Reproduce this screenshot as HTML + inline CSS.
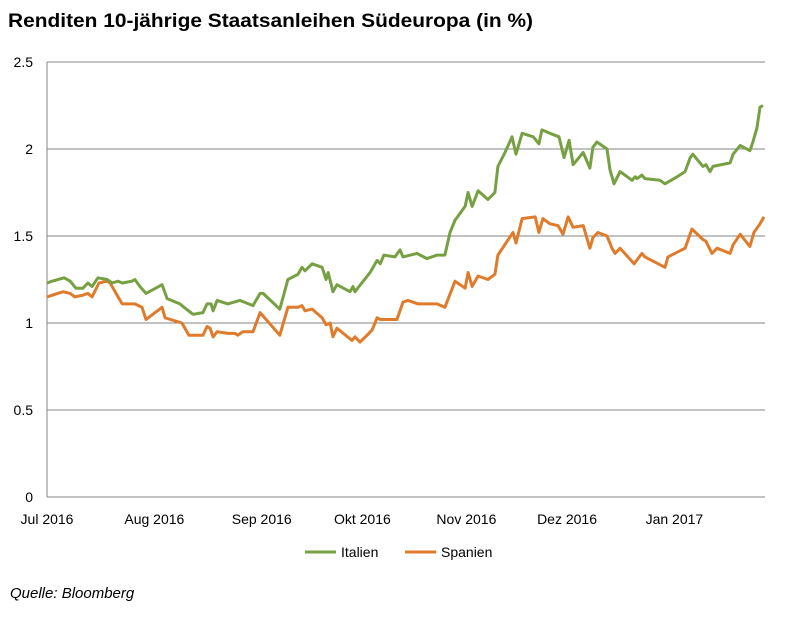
<!DOCTYPE html>
<html><head><meta charset="utf-8">
<style>
body{margin:0;background:#fff;width:796px;height:628px;overflow:hidden;font-family:"Liberation Sans",sans-serif;}
svg{position:absolute;left:0;top:0}
</style></head>
<body>
<svg id="chart" width="796" height="628" xmlns="http://www.w3.org/2000/svg">
<text x="8" y="27" font-size="19" font-weight="bold" fill="#000" textLength="525" lengthAdjust="spacingAndGlyphs">Renditen 10-jährige Staatsanleihen Südeuropa (in %)</text>
<g id="grid"></g><g id="series"></g>
<g>
<line x1="305" y1="552" x2="336" y2="552" stroke="#77a043" stroke-width="3"/>
<text x="341" y="557" font-size="14">Italien</text>
<line x1="405" y1="552" x2="436" y2="552" stroke="#e07b2c" stroke-width="3"/>
<text x="441" y="557" font-size="14">Spanien</text>
</g>
<text x="10" y="598" font-size="15" font-style="italic">Quelle: Bloomberg</text>
</svg>
<script>
const yTicks=[0,0.5,1,1.5,2,2.5];
const yTickLabels=["0","0.5","1","1.5","2","2.5"];
const xTickDays=[0,32,64,94,125,155,187];
const xTickLabels=["Jul 2016","Aug 2016","Sep 2016","Okt 2016","Nov 2016","Dez 2016","Jan 2017"];
const itDays=[0,1.5,5.1,6.9,8.6,10.7,12.2,13.4,15.2,17.9,19.4,21.2,22.4,25.3,26.2,27.7,29.5,34.3,35.8,39.6,43.5,46.5,47.7,48.9,49.5,50.7,53.9,57.5,61.4,63.5,64.4,69.4,71.8,74.8,76,76.9,79,82,83.2,83.8,85.2,86.4,90.3,91.2,91.8,93,96.3,98.4,99.3,100.4,103.7,105.2,106.1,110.3,111.2,113.3,116.2,118.6,120.1,121.6,124.6,125.5,126.7,128.5,131.4,133.5,134.4,136.5,138.6,139.8,141.6,144.9,146.6,147.5,149.9,152.6,154.1,155.6,156.8,159.8,161.8,162.7,163.9,166.9,167.8,169,170.8,174.4,175.3,175.9,177.3,178.2,182.7,184.2,187.8,190.2,191.7,192.5,195.5,196.4,197.6,198.5,203.6,204.5,206.6,209.5,210.4,211.6,212.5,213.4];
const itVals=[1.23,1.24,1.26,1.24,1.20,1.20,1.23,1.21,1.26,1.25,1.23,1.24,1.23,1.24,1.25,1.21,1.17,1.22,1.14,1.11,1.05,1.06,1.11,1.11,1.07,1.13,1.11,1.13,1.10,1.17,1.17,1.08,1.25,1.28,1.32,1.30,1.34,1.32,1.25,1.29,1.18,1.22,1.18,1.21,1.18,1.21,1.29,1.36,1.34,1.39,1.38,1.42,1.38,1.40,1.39,1.37,1.39,1.39,1.52,1.59,1.67,1.75,1.67,1.76,1.71,1.75,1.90,1.98,2.07,1.97,2.09,2.07,2.03,2.11,2.09,2.07,1.95,2.05,1.91,1.98,1.89,2.01,2.04,2.00,1.88,1.80,1.87,1.82,1.84,1.83,1.85,1.83,1.82,1.80,1.84,1.87,1.95,1.97,1.90,1.91,1.87,1.90,1.92,1.97,2.02,1.99,2.04,2.12,2.24,2.25];
const esDays=[0,4.8,6.9,8.3,10.7,12.2,13.4,15.5,17.9,18.8,20.9,22.4,26.2,28.3,29.5,34.3,35.2,40.2,42.3,46.5,47.7,48.6,49.5,50.7,53.9,56,56.9,58.4,61.4,63.5,69.4,71.8,74.8,76,76.9,79,82,83.2,84.4,85.2,86.4,90.9,91.8,93.3,95.4,96.9,98.4,99.3,104.3,106.1,107.6,110.6,111.8,116.2,118.6,121.6,124.6,125.5,126.7,128.5,131.4,133.5,134.4,138.9,139.8,141.6,145.5,146.6,147.8,149.9,152.3,153.8,155.3,156.8,159.8,161.8,162.7,164.2,166.9,168.4,169.3,170.8,175,177.3,178.2,184.2,185.1,190.2,192.2,195.5,196.4,198.2,199.7,203.6,204.5,206.6,209.5,210.7,212.5,213.7];
const esVals=[1.15,1.18,1.17,1.15,1.16,1.17,1.15,1.23,1.24,1.23,1.16,1.11,1.11,1.09,1.02,1.09,1.03,1.00,0.93,0.93,0.98,0.97,0.92,0.95,0.94,0.94,0.93,0.95,0.95,1.06,0.93,1.09,1.09,1.10,1.07,1.08,1.03,0.99,1.00,0.92,0.97,0.90,0.92,0.89,0.93,0.96,1.03,1.02,1.02,1.12,1.13,1.11,1.11,1.11,1.09,1.24,1.20,1.29,1.21,1.27,1.25,1.28,1.39,1.52,1.46,1.60,1.61,1.52,1.60,1.57,1.56,1.51,1.61,1.55,1.56,1.43,1.49,1.52,1.50,1.43,1.40,1.43,1.34,1.40,1.38,1.32,1.38,1.43,1.54,1.48,1.47,1.40,1.43,1.40,1.45,1.51,1.44,1.52,1.57,1.61];

const NS="http://www.w3.org/2000/svg";
const X0=47,X1=765,DMAX=214,Y0=497,YTOP=62,VMAX=2.5;
function xs(d){return X0+d*(X1-X0)/DMAX;}
function ys(v){return Y0-v*(Y0-YTOP)/VMAX;}
const grid=document.getElementById('grid');
function mk(tag,attrs,parent){const e=document.createElementNS(NS,tag);for(const k in attrs)e.setAttribute(k,attrs[k]);parent.appendChild(e);return e;}
yTicks.forEach((t,i)=>{
  const l=mk('line',{x1:X0,x2:X1,y1:ys(t),y2:ys(t),stroke:'#868686','stroke-width':1},grid);
  
  
  const tx=mk('text',{x:33,y:ys(t)+5,'font-size':14,'text-anchor':'end',fill:'#000'},grid);
  tx.textContent=yTickLabels[i];
  
  
});
const ax=mk('line',{x1:X0,x2:X0,y1:YTOP,y2:Y0,stroke:'#868686','stroke-width':1},grid);


xTickDays.forEach((d,i)=>{
  const tx=mk('text',{x:xs(d),y:524,'font-size':14,'text-anchor':'middle',fill:'#000'},grid);
  tx.textContent=xTickLabels[i];
  
  
});
const ser=document.getElementById('series');
function line(days,vals,color,name){
  const pts=days.map((d,i)=>xs(d).toFixed(1)+','+ys(vals[i]).toFixed(1)).join(' ');
  const p=mk('polyline',{points:pts,fill:'none',stroke:color,'stroke-width':3,'stroke-linejoin':'round'},ser);
  
  
}
line(esDays,esVals,'#e07b2c','spanien-line');
line(itDays,itVals,'#77a043','italien-line');
</script>
</body></html>
